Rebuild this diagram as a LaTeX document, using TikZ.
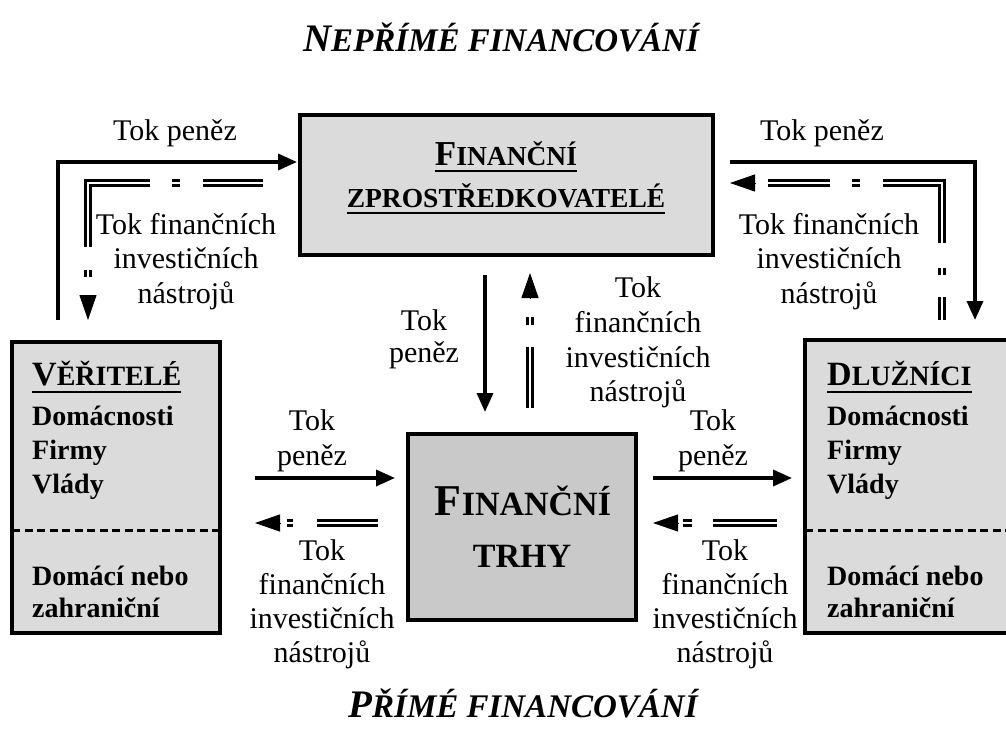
\documentclass[tikz,border=0pt]{standalone}
\usepackage{fontspec}
\setmainfont{Liberation Serif}
\usetikzlibrary{arrows.meta,calc}
\definecolor{boxlight}{gray}{0.86}
\definecolor{boxdark}{gray}{0.79}
\newcommand\fsz[1]{\fontsize{#1}{#1}\selectfont}
\begin{document}
\begin{tikzpicture}[x=1pt,y=-1pt,
  box/.style={draw, line width=3.5pt, inner sep=0pt},
  lbl/.style={inner sep=0pt, anchor=base, font=\fsz{30}},
  btxt/.style={inner sep=0pt, anchor=base west, font=\bfseries\fsz{28}},
  ctxt/.style={inner sep=0pt, anchor=base, font=\bfseries},
  ttl/.style={inner sep=0pt, anchor=base, font=\bfseries\itshape},
  money/.style={line width=3.5pt, -{Triangle[length=19pt,width=16pt]}},
  instr/.style={double=white, line width=3pt, double distance=2.5pt},
  itip/.style={line width=1pt, -{Triangle[length=25pt,width=17pt]}},
  ul/.style={line width=2.5pt},
  sep/.style={line width=3pt, dash pattern=on 8pt off 4.5pt}]
\useasboundingbox (0,0) rectangle (1006,728);

% boxes
\node[box, fill=boxlight, minimum width=413pt, minimum height=140pt] (zp) at (506.5,185) {};
\node[box, fill=boxdark, minimum width=228pt, minimum height=186pt] (ft) at (522,527) {};
\node[box, fill=boxlight, minimum width=208pt, minimum height=291pt] (ver) at (116,487.5) {};
\node[box, fill=boxlight, minimum width=220pt, minimum height=293pt] (dlu) at (915,486.5) {};

% separators
\coordinate (s1a) at (12,530); \coordinate (s1b) at (220,530);
\coordinate (s2a) at (805,530); \coordinate (s2b) at (1006,530);
\draw[sep] (s1a) -- (s1b);
\draw[sep] (s2a) -- (s2b);

% titles
\node[ttl] (tTop) at (501,51) {{\fsz{39}N}{\fsz{33}EPŘÍMÉ FINANCOVÁNÍ}};
\node[ttl] (tBot) at (523,717) {{\fsz{39}P}{\fsz{33}ŘÍMÉ FINANCOVÁNÍ}};

% top box text
\node[ctxt] (zpT1) at (506,165) {{\fsz{35}F}{\fsz{27.5}INANČNÍ}};
\node[ctxt] (zpT2) at (506,207) {\fsz{27.5}ZPROSTŘEDKOVATELÉ};
\draw[ul] ($(zpT1.base west)+(0,6)$) -- ($(zpT1.base east)+(0,6)$);
\draw[ul] ($(zpT2.base west)+(0,6)$) -- ($(zpT2.base east)+(0,6)$);

% centre box text
\node[ctxt] (ftT1) at (523,515) {{\fsz{44}F}{\fsz{34}INANČNÍ}};
\node[ctxt] (ftT2) at (522,567) {\fsz{34}TRHY};

% left box text
\node[btxt] (verT) at (32,385) {{\fsz{34}V}{\fsz{28}ĚŘITELÉ}};
\draw[ul] ($(verT.base west)+(0,7)$) -- ($(verT.base east)+(0,7)$);
\node[btxt] (ver1) at (32,425) {Domácnosti};
\node[btxt] (ver2) at (32,459) {Firmy};
\node[btxt] (ver3) at (32,493) {Vlády};
\node[btxt] (ver4) at (32,585) {Domácí nebo};
\node[btxt] (ver5) at (32,617) {zahraniční};

% right box text
\node[btxt] (dluT) at (827,385) {{\fsz{34}D}{\fsz{28}LUŽNÍCI}};
\draw[ul] ($(dluT.base west)+(0,7)$) -- ($(dluT.base east)+(0,7)$);
\node[btxt] (dlu1) at (827,425) {Domácnosti};
\node[btxt] (dlu2) at (827,459) {Firmy};
\node[btxt] (dlu3) at (827,493) {Vlády};
\node[btxt] (dlu4) at (827,585) {Domácí nebo};
\node[btxt] (dlu5) at (827,617) {zahraniční};

% labels
\node[lbl] (lTLm) at (175,140) {Tok peněz};
\node[lbl] (lTRm) at (822,140) {Tok peněz};
\node[lbl] (lTL1) at (186,234) {Tok finančních};
\node[lbl] (lTL2) at (186,268) {investičních};
\node[lbl] (lTL3) at (186,303) {nástrojů};
\node[lbl] (lTR1) at (829,234) {Tok finančních};
\node[lbl] (lTR2) at (829,268) {investičních};
\node[lbl] (lTR3) at (829,303) {nástrojů};
\node[lbl] (lCm1) at (424,330) {Tok};
\node[lbl] (lCm2) at (424,362) {peněz};
\node[lbl] (lCi1) at (638,297) {Tok};
\node[lbl] (lCi2) at (638,332) {finančních};
\node[lbl] (lCi3) at (638,367) {investičních};
\node[lbl] (lCi4) at (638,401) {nástrojů};
\node[lbl] (lBLm1) at (312,430) {Tok};
\node[lbl] (lBLm2) at (312,465) {peněz};
\node[lbl] (lBRm1) at (713,430) {Tok};
\node[lbl] (lBRm2) at (713,465) {peněz};
\node[lbl] (lBL1) at (322,560) {Tok};
\node[lbl] (lBL2) at (322,594) {finančních};
\node[lbl] (lBL3) at (322,628) {investičních};
\node[lbl] (lBL4) at (322,662) {nástrojů};
\node[lbl] (lBR1) at (725,560) {Tok};
\node[lbl] (lBR2) at (725,594) {finančních};
\node[lbl] (lBR3) at (725,628) {investičních};
\node[lbl] (lBR4) at (725,662) {nástrojů};

% money flows
\coordinate (m1s) at (58,320);  \coordinate (m1e) at (297,162);
\coordinate (m2s) at (730,162); \coordinate (m2e) at (975,320);
\coordinate (m3s) at (485,275); \coordinate (m3e) at (485,412);
\coordinate (m4s) at (255,478); \coordinate (m4e) at (395,478);
\coordinate (m5s) at (653,478); \coordinate (m5e) at (792,478);
\draw[money] (m1s) |- (m1e);
\draw[money] (m2s) -| (m2e);
\draw[money] (m3s) -- (m3e);
\draw[money] (m4s) -- (m4e);
\draw[money] (m5s) -- (m5e);

% instrument flows
\coordinate (i1s) at (263,183); \coordinate (i1e) at (88,277);
\coordinate (i1a) at (88,295);  \coordinate (i1b) at (88,320);
\draw[instr, dash pattern=on 60pt off 23pt on 8pt off 22pt on 126pt off 23pt on 7pt off 100pt] (i1s) -| (i1e);
\draw[itip] (i1a) -- (i1b);

\coordinate (i2s) at (942,320); \coordinate (i2e) at (768,183);
\coordinate (i2a) at (755,183); \coordinate (i2b) at (730,183);
\draw[instr, dash pattern=on 23pt off 22pt on 7pt off 25pt on 119pt off 23pt on 8pt off 22pt on 62pt off 100pt] (i2s) |- (i2e);
\draw[itip] (i2a) -- (i2b);

\coordinate (i3s) at (530,408); \coordinate (i3e) at (530,317);
\coordinate (i3a) at (530,298); \coordinate (i3b) at (530,273);
\draw[instr, dash pattern=on 61pt off 22pt on 8pt off 100pt] (i3s) -- (i3e);
\draw[itip] (i3a) -- (i3b);

\coordinate (i4s) at (378,523); \coordinate (i4e) at (287,523);
\coordinate (i4a) at (281,523); \coordinate (i4b) at (255,523);
\draw[instr, dash pattern=on 61pt off 24pt on 6pt off 100pt] (i4s) -- (i4e);
\draw[itip] (i4a) -- (i4b);

\coordinate (i5s) at (777,523); \coordinate (i5e) at (683,523);
\coordinate (i5a) at (679,523); \coordinate (i5b) at (653,523);
\draw[instr, dash pattern=on 64pt off 21pt on 9pt off 100pt] (i5s) -- (i5e);
\draw[itip] (i5a) -- (i5b);
\end{tikzpicture}
\end{document}
